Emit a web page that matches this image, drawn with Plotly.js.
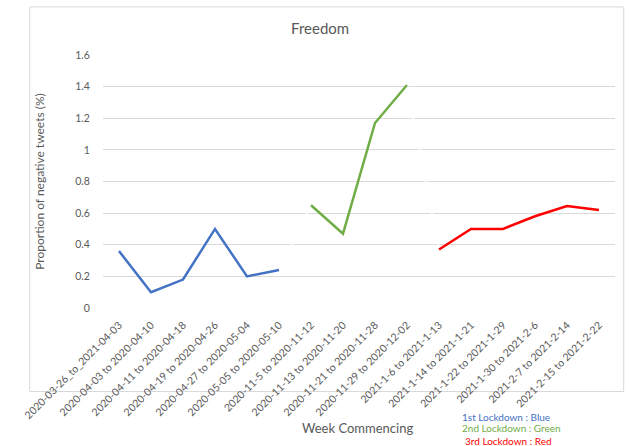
<!DOCTYPE html>
<html>
<head>
<meta charset="utf-8">
<script src="https://cdn.plot.ly/plotly-3.0.1.min.js"></script>
<style>html,body{margin:0;padding:0;background:#fff;}#chart{width:629px;height:446px;}</style>
</head>
<body>
<div id="chart"></div>
<script>
const weeks = [
  "2020-03-26_to_2021-04-03","2020-04-03 to 2020-04-10","2020-04-11 to 2020-04-18",
  "2020-04-19 to 2020-04-26","2020-04-27 to 2020-05-04","2020-05-05 to 2020-05-10",
  "2020-11-5 to 2020-11-12","2020-11-13 to 2020-11-20","2020-11-21 to 2020-11-28",
  "2020-11-29 to 2020-12-02","2021-1-6 to 2021-1-13","2021-1-14 to 2021-1-21",
  "2021-1-22 to 2021-1-29","2021-1-30 to 2021-2-6","2021-2-7 to 2021-2-14",
  "2021-2-15 to 2021-2-22"
];
const firstLockdown = [0.36, 0.10, 0.18, 0.50, 0.20, 0.24];
const secondLockdown = [0.65, 0.47, 1.17, 1.41];
const thirdLockdown = [0.37, 0.50, 0.50, 0.58, 0.645, 0.62];
const yTicks = [0, 0.2, 0.4, 0.6, 0.8, 1, 1.2, 1.4, 1.6];

const n1 = firstLockdown.length, n2 = secondLockdown.length;
const x1 = weeks.slice(0, n1);
const x2 = weeks.slice(n1, n1 + n2);
const x3 = weeks.slice(n1 + n2);

const font = "Lato, 'Liberation Sans', sans-serif";
const traces = [
  {x:[x1[n1-1], x2[0]], y:[firstLockdown[n1-1], secondLockdown[0]], mode:'lines', line:{color:'#ffffff', width:2}, hoverinfo:'skip', showlegend:false},
  {x:[x2[n2-1], x3[0]], y:[secondLockdown[n2-1], thirdLockdown[0]], mode:'lines', line:{color:'#ffffff', width:2}, hoverinfo:'skip', showlegend:false},
  {x:x1, y:firstLockdown, mode:'lines', name:'1st Lockdown', line:{color:'#4472C4', width:2.5}},
  {x:x2, y:secondLockdown, mode:'lines', name:'2nd Lockdown', line:{color:'#70AD47', width:2.5}},
  {x:x3, y:thirdLockdown, mode:'lines', name:'3rd Lockdown', line:{color:'#FF0000', width:2.5}}
];

const layout = {
  width:629, height:446,
  margin:{l:103, r:14, t:55, b:138},
  paper_bgcolor:'#ffffff', plot_bgcolor:'#ffffff',
  showlegend:false,
  font:{family:font, color:'#595959'},
  title:{text:'Freedom', font:{size:15, color:'#595959', family:font}, x:0.509, xanchor:'center', y:0.935, yanchor:'middle'},
  xaxis:{
    type:'category', categoryorder:'array', categoryarray:weeks,
    range:[-0.5, weeks.length-0.5],
    tickangle:-45, tickfont:{size:10.5, color:'#595959'},
    showgrid:false, showline:false, zeroline:false,
    ticks:'outside', ticklen:6, tickcolor:'rgba(0,0,0,0)'
  },
  yaxis:{
    range:[0,1.6], tickvals:yTicks, ticktext:yTicks.map(String),
    tickfont:{size:10.5, color:'#595959'},
    showgrid:true, gridcolor:'#d9d9d9', gridwidth:1,
    zeroline:false, showline:false,
    ticks:'outside', ticklen:10, tickcolor:'rgba(0,0,0,0)',
    title:{text:'Proportion of negative tweets (%)', font:{size:12, color:'#595959'}, standoff:28}
  },
  shapes:[
    {type:'rect', xref:'paper', yref:'paper', x0:-0.143, x1:1.017, y0:-0.33, y1:1.19,
     line:{color:'#d9d9d9', width:1}, fillcolor:'rgba(0,0,0,0)', layer:'below'}
  ],
  annotations:[
    {text:'Week Commencing', xref:'paper', yref:'paper', x:0.497, y:-0.475, xanchor:'center', yanchor:'middle', showarrow:false, font:{size:13, color:'#595959'}},
    {text:'1st Lockdown : Blue', xref:'paper', yref:'paper', x:0.697, y:-0.43, xanchor:'left', yanchor:'middle', showarrow:false, font:{size:10, color:'#4472C4'}},
    {text:'2nd Lockdown : Green', xref:'paper', yref:'paper', x:0.697, y:-0.475, xanchor:'left', yanchor:'middle', showarrow:false, font:{size:10, color:'#70AD47'}},
    {text:'3rd Lockdown : Red', xref:'paper', yref:'paper', x:0.703, y:-0.527, xanchor:'left', yanchor:'middle', showarrow:false, font:{size:10, color:'#FF0000'}}
  ]
};

Plotly.newPlot('chart', traces, layout, {displayModeBar:false, staticPlot:true});
</script>
</body>
</html>
